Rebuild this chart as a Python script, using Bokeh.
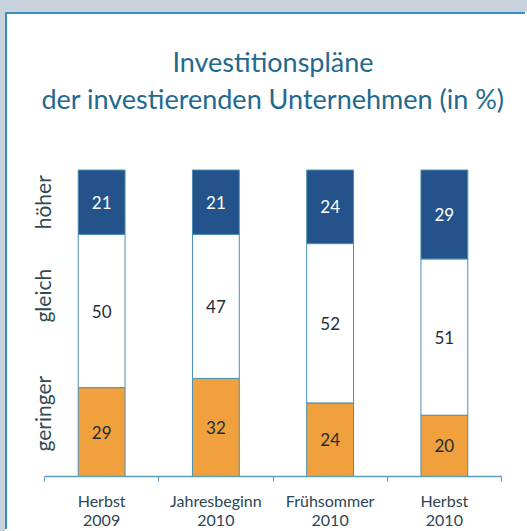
from bokeh.plotting import figure
from bokeh.models import ColumnDataSource, FixedTicker, Range1d, Title
from bokeh.layouts import column
from bokeh.core.properties import value
from bokeh.embed import file_html
from bokeh.resources import INLINE

# ---- data ----
periods = ["Herbst\n2009", "Jahresbeginn\n2010", "Frühsommer\n2010", "Herbst\n2010"]
geringer = [29, 32, 24, 20]
gleich = [50, 47, 52, 51]
hoeher = [21, 21, 24, 29]
series_names = ["geringer", "gleich", "höher"]
title_lines = ["Investitionspläne", "der investierenden Unternehmen (in %)"]

# ---- layout / style constants ----
FONT = "Lato"
side_label_y = [20.5, 59, 89.5]
colors = ["#f0a03c", "#ffffff", "#23538a"]
num_colors = ["#1f2d36", "#1f2d36", "#ffffff"]
bar_width = 0.41
FIG_W, FIG_H = 520, 517
BORDER_TOP, BORDER_BOTTOM = 101, 52
FRAME_PX = FIG_H - BORDER_TOP - BORDER_BOTTOM
BAR_PX = 309                                 # px height of a 100 % bar
y_top = FRAME_PX / (BAR_PX / 100.0)          # a little room above the bars

xs = [i + 0.5 for i in range(len(periods))]
series = [geringer, gleich, hoeher]

p = figure(width=FIG_W, height=FIG_H, output_backend="svg", toolbar_location=None,
           x_range=Range1d(0, len(periods)), y_range=Range1d(0, y_top),
           min_border_left=37, min_border_right=26, min_border_bottom=BORDER_BOTTOM,
           min_border_top=BORDER_TOP)
p.margin = (12, 0, 0, 5)
p.styles = {"border-top": "2px solid #3a8fc2", "border-left": "2px solid #3a8fc2"}
p.outline_line_color = None
p.background_fill_color = "white"
p.border_fill_color = "white"
p.grid.visible = False

bottom = [0] * len(periods)
for name, vals, col, ncol in zip(series_names, series, colors, num_colors):
    top = [b + v for b, v in zip(bottom, vals)]
    mid = [(b + t) / 2 for b, t in zip(bottom, top)]
    src = ColumnDataSource(dict(x=xs, bottom=bottom, top=top, mid=mid,
                                lab=[str(v) for v in vals]))
    p.vbar(x="x", width=bar_width, bottom="bottom", top="top", source=src,
           fill_color=col, line_color="#4a8db5", line_width=1)
    p.text(x="x", y="mid", text="lab", source=src, text_align="center",
           text_baseline="middle", text_color=ncol, text_font=value(FONT),
           text_font_size="17px")
    bottom = top

# heading (second line nearest the plot)
for line, stand in zip(reversed(title_lines), [2, 1]):
    p.add_layout(Title(text=line, align="center", text_font=FONT,
                       text_font_size="27px", text_font_style="normal",
                       text_color="#23698f", standoff=stand), "above")

# x axis: labels at centres, small ticks at category borders
xa = p.xaxis[0]
xa.ticker = FixedTicker(ticks=xs, minor_ticks=list(range(len(periods) + 1)))
xa.major_label_overrides = {x: lab for x, lab in zip(xs, periods)}
xa.major_tick_line_color = None
xa.major_tick_out = 0
xa.minor_tick_out = 5
xa.minor_tick_in = 0
xa.minor_tick_line_color = "#5c9cbd"
xa.axis_line_color = "#5c9cbd"
xa.axis_line_width = 1.5
xa.major_label_text_font = FONT
xa.major_label_text_font_size = "16px"
xa.major_label_text_line_height = 1.0
xa.major_label_text_color = "#2b4654"
xa.major_label_standoff = 9

# y axis: rotated series names
ya = p.yaxis[0]
ya.ticker = FixedTicker(ticks=side_label_y)
ya.major_label_overrides = {y: n for y, n in zip(side_label_y, series_names)}
ya.major_label_orientation = "vertical"
ya.axis_line_color = None
ya.major_tick_line_color = None
ya.minor_tick_line_color = None
ya.major_tick_out = 0
ya.major_label_standoff = -11
ya.major_label_text_font = FONT
ya.major_label_text_font_size = "21px"
ya.major_label_text_color = "#2f4a52"

bg = ("linear-gradient(to right, #c8d3de 5px, transparent 5px), "
      "linear-gradient(to bottom, #c8d3de 12px, #ffffff 12px)")
page = column(p, width=527, height=531, styles={"background": bg})
open("out.html", "w").write(file_html(page, INLINE))
